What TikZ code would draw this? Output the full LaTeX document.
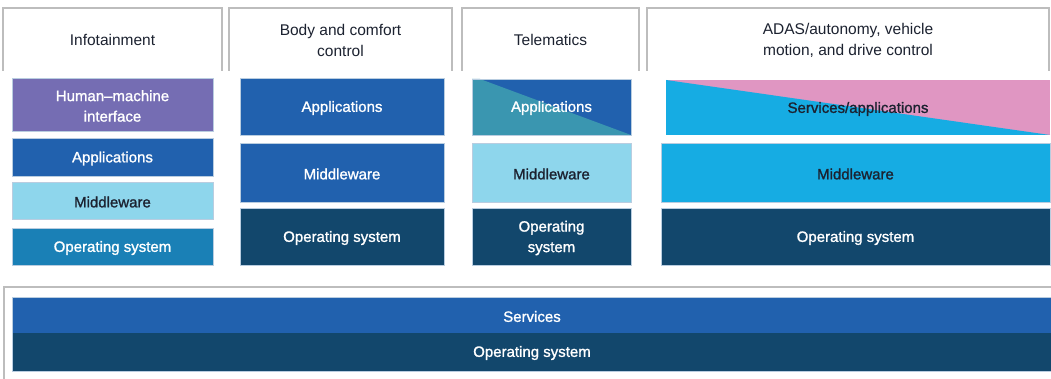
\documentclass[tikz,border=0pt]{standalone}
\usepackage{fontspec}
\setmainfont{Liberation Sans}
\newfontfamily\medfont[FakeBold=1.2]{Liberation Sans}
\definecolor{hdrline}{HTML}{BDBDBD}
\definecolor{hmipurple}{HTML}{756DB3}
\definecolor{appblue}{HTML}{2161AE}
\definecolor{lightmid}{HTML}{8ED6EC}
\definecolor{infoos}{HTML}{1A80B6}
\definecolor{darkos}{HTML}{12476C}
\definecolor{tealc}{HTML}{3A96B0}
\definecolor{cyanc}{HTML}{16ACE3}
\definecolor{pinkc}{HTML}{E096C2}
\definecolor{darktext}{HTML}{1C2230}
\definecolor{edgec}{HTML}{B9CDE0}
\tikzset{
  hdr/.style={draw=none, align=center, text=darktext, font=\fontsize{15.5}{21}\selectfont},
  hdrline/.style={draw=hdrline, line width=1.2pt},
  layer/.style={draw=edgec, line width=0.6pt, align=center, inner sep=0pt,
    text=white, font=\medfont\fontsize{15}{20.5}\selectfont},
  lbl/.style={align=center, inner sep=0pt, text=white, font=\medfont\fontsize{15}{20.5}\selectfont}
}
\newcommand{\layerbox}[7]{% name, x1, y1, x2, y2, fill, text
  \path[layer, fill=#6] (#2,#3) rectangle (#4,#5);
  \node[lbl] (#1) at ({(#2+#4)/2},{(#3+#5)/2+1.5}) {#7};}
\begin{document}
\begin{tikzpicture}[x=1pt,y=-1pt]
\useasboundingbox[fill=white] (0,0) rectangle (1051,379);

% header boxes (open at the bottom)
\draw[hdrline] (3,71) -- (3,8) -- (222,8) -- (222,71);
\draw[hdrline] (229,71) -- (229,8) -- (452,8) -- (452,71);
\draw[hdrline] (462,71) -- (462,8) -- (639,8) -- (639,71);
\draw[hdrline] (647,71) -- (647,8) -- (1049,8) -- (1049,71);
\node[hdr] (hinfo) at (112.5,39.5) {Infotainment};
\node[hdr] (hbody) at (340.5,40) {Body and comfort\\control};
\node[hdr] (htel) at (550.5,39.5) {Telematics};
\node[hdr] (hadas) at (848,40) {ADAS/autonomy, vehicle\\motion, and drive control};

% Infotainment column
\layerbox{hmi}{12}{78}{213}{131}{hmipurple}{Human–machine\\interface}
\layerbox{iapp}{12}{138}{213}{176}{appblue}{Applications}
\layerbox{imid}{12}{182}{213}{219}{lightmid}{\color{darktext}Middleware}
\layerbox{ios}{12}{228}{213}{265}{infoos}{Operating system}

% Body and comfort column
\layerbox{bapp}{240}{78}{444}{135}{appblue}{Applications}
\layerbox{bmid}{240}{143}{444}{202}{appblue}{Middleware}
\layerbox{bos}{240}{208}{444}{265}{darkos}{Operating system}

% Telematics column
\fill[appblue] (472,79) rectangle (631,135);
\fill[tealc] (472,79) -- (480,79) -- (631,135) -- (472,135) -- cycle;
\draw[edgec, line width=0.6pt] (472,79) rectangle (631,135);
\node[lbl] (tapp) at (551.5,108) {Applications};
\layerbox{tmid}{472}{143}{631}{202}{lightmid}{\color{darktext}Middleware}
\layerbox{tos}{472}{208}{631}{265}{darkos}{Operating\\system}

% ADAS column
\fill[pinkc] (666,80) rectangle (1050,135);
\fill[cyanc] (666,80) -- (1050,135) -- (666,135) -- cycle;
\node[lbl, text=darktext] (aapp) at (858,109) {Services/applications};
\layerbox{amid}{661}{143}{1050}{202}{cyanc}{\color{darktext}Middleware}
\layerbox{aos}{661}{208}{1050}{265}{darkos}{Operating system}

% bottom platform
\draw[hdrline] (4,379) -- (4,287) -- (1051,287);
\fill[appblue] (12,297) rectangle (1052,333);
\fill[darkos] (12,333) rectangle (1052,371);
\draw[edgec, line width=0.6pt] (12,297) rectangle (1052,371);
\node[lbl] (psrv) at (532,316.5) {Services};
\node[lbl] (pos) at (532,353) {Operating system};
\end{tikzpicture}
\end{document}
